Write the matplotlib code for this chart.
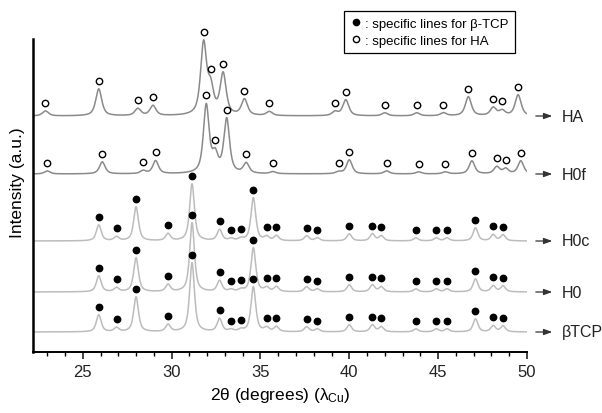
import numpy as np
import matplotlib
matplotlib.use("Agg")
import matplotlib.pyplot as plt
from matplotlib.lines import Line2D

plt.rcParams['font.family'] = ['Liberation Sans', 'DejaVu Sans']
plt.rcParams['mathtext.fontset'] = 'custom'
plt.rcParams['mathtext.rm'] = 'Liberation Sans'
plt.rcParams['mathtext.it'] = 'Liberation Sans'

# peak lists: 2theta, height (a.u.)
ha_pos = [22.9, 25.9, 28.1, 28.95, 31.8, 32.2, 32.9, 34.1, 35.5, 39.2, 39.8,
          42.0, 43.8, 45.3, 46.7, 48.1, 48.6, 49.5]
ha_h = [5, 27, 7, 10, 71, 25, 41, 16, 4, 4, 16, 3, 3, 3, 19, 8, 5, 21]

h0f_pos = [23.0, 26.1, 28.4, 29.1, 31.95, 32.45, 33.1, 34.2, 35.7, 39.4, 40.0,
           42.1, 43.9, 45.4, 46.9, 48.3, 48.8, 49.65]
h0f_h = [3, 12, 3, 13, 68, 17, 54, 10, 2, 2, 14, 3, 2, 2, 13, 7, 5, 13]

tcp_pos = [25.9, 26.9, 28.0, 29.8, 31.15, 32.7, 33.35, 33.9, 34.6, 35.35, 35.9,
           37.6, 38.2, 40.0, 41.3, 41.8, 43.75, 44.9, 45.5, 47.1, 48.1, 48.65]
h0c_h = [16, 4, 34, 7, 57, 11, 2, 2, 43, 4, 5, 5, 3, 7, 7, 5, 3, 3, 3, 13, 6, 6]
h0_h = [16, 4, 34, 7, 69, 11, 2, 2, 44, 4, 5, 5, 3, 7, 7, 5, 3, 3, 3, 13, 6, 6]
btcp_h = [17, 4, 35, 7, 69, 13, 2, 2, 45, 4, 5, 5, 3, 7, 7, 5, 3, 3, 3, 13, 6, 6]

names = ['HA', 'H0f', 'H0c', 'H0', 'βTCP']
offsets = [216, 158, 91, 40, 0]


def pattern(x, pos, h, w):
    y = np.zeros_like(x)
    for p, a in zip(pos, h):
        d = (x - p) / (w / 2)
        y += a * (0.7 / (1 + d ** 2) + 0.3 * np.exp(-np.log(2) * d ** 2))
    return y


x = np.linspace(22.2, 50, 3000)
series = [
    (ha_pos, ha_h, 0.40, '#8a8a8a', 'o'),
    (h0f_pos, h0f_h, 0.38, '#8a8a8a', 'o'),
    (tcp_pos, h0c_h, 0.32, '#bcbcbc', '•'),
    (tcp_pos, h0_h, 0.32, '#bcbcbc', '•'),
    (tcp_pos, btcp_h, 0.32, '#bcbcbc', '•'),
]

fig = plt.figure(figsize=(6.02, 4.14), dpi=100)
ax = fig.add_axes([33 / 602, 1 - 353 / 414, 494 / 602, 340 / 414])

for (pos, h, w, col, mk), name, off in zip(series, names, offsets):
    y = pattern(x, pos, h, w) + off
    ax.plot(x, y, color=col, lw=1.1)
    ym = pattern(np.array(pos), pos, h, w) + off + 8
    if mk == 'o':
        ax.plot(pos, ym, 'o', ms=4.6, mfc='white', mec='black', mew=1.0, ls='none',
                clip_on=False, zorder=5)
    else:
        ax.plot(pos, ym, 'o', ms=4.6, mfc='black', mec='black', ls='none',
                clip_on=False, zorder=5)
    ax.annotate('', xy=(51.58, off), xytext=(50.34, off), annotation_clip=False,
                arrowprops=dict(arrowstyle='-|>,head_length=0.5,head_width=0.18',
                                color='#333333', lw=0.9))
    ax.text(51.95, off, name, fontsize=11.5, va='center', ha='left',
            color='#222222', clip_on=False)

ax.set_xlim(22.2, 50)
ax.set_ylim(-20, 320)
ax.spines['top'].set_visible(False)
ax.spines['right'].set_visible(False)
ax.spines['left'].set_bounds(-20, 293)
ax.spines['left'].set_linewidth(1.8)
ax.spines['bottom'].set_linewidth(1.4)
ax.set_yticks([])
ax.set_xticks(range(25, 51, 5))
ax.set_xticks(range(23, 51), minor=True)
ax.tick_params(axis='x', which='major', direction='out', length=5, width=1.2,
               labelsize=12, pad=4, colors='#222222')
ax.tick_params(axis='x', which='minor', direction='out', length=3, width=1.0)
ax.set_xlabel(r'2θ (degrees) (λ$_{\rm Cu}$)', fontsize=12.5, labelpad=4)
ax.set_ylabel('Intensity (a.u.)', fontsize=12.5, labelpad=6)

handles = [Line2D([], [], marker='o', ls='none', mfc='black', mec='black', ms=4.5),
           Line2D([], [], marker='o', ls='none', mfc='white', mec='black', ms=4.5, mew=1)]
leg = fig.legend(handles, [': specific lines for β-TCP', ': specific lines for HA'],
                 loc='upper left', bbox_to_anchor=(344 / 602, 1 - 12 / 414),
                 borderaxespad=0, fontsize=9.5, handlelength=0.8, handletextpad=0.3,
                 fancybox=False, edgecolor='black', framealpha=1, labelspacing=0.35,
                 borderpad=0.5)
leg.get_frame().set_linewidth(0.9)

fig.savefig('out.png', dpi=100)
